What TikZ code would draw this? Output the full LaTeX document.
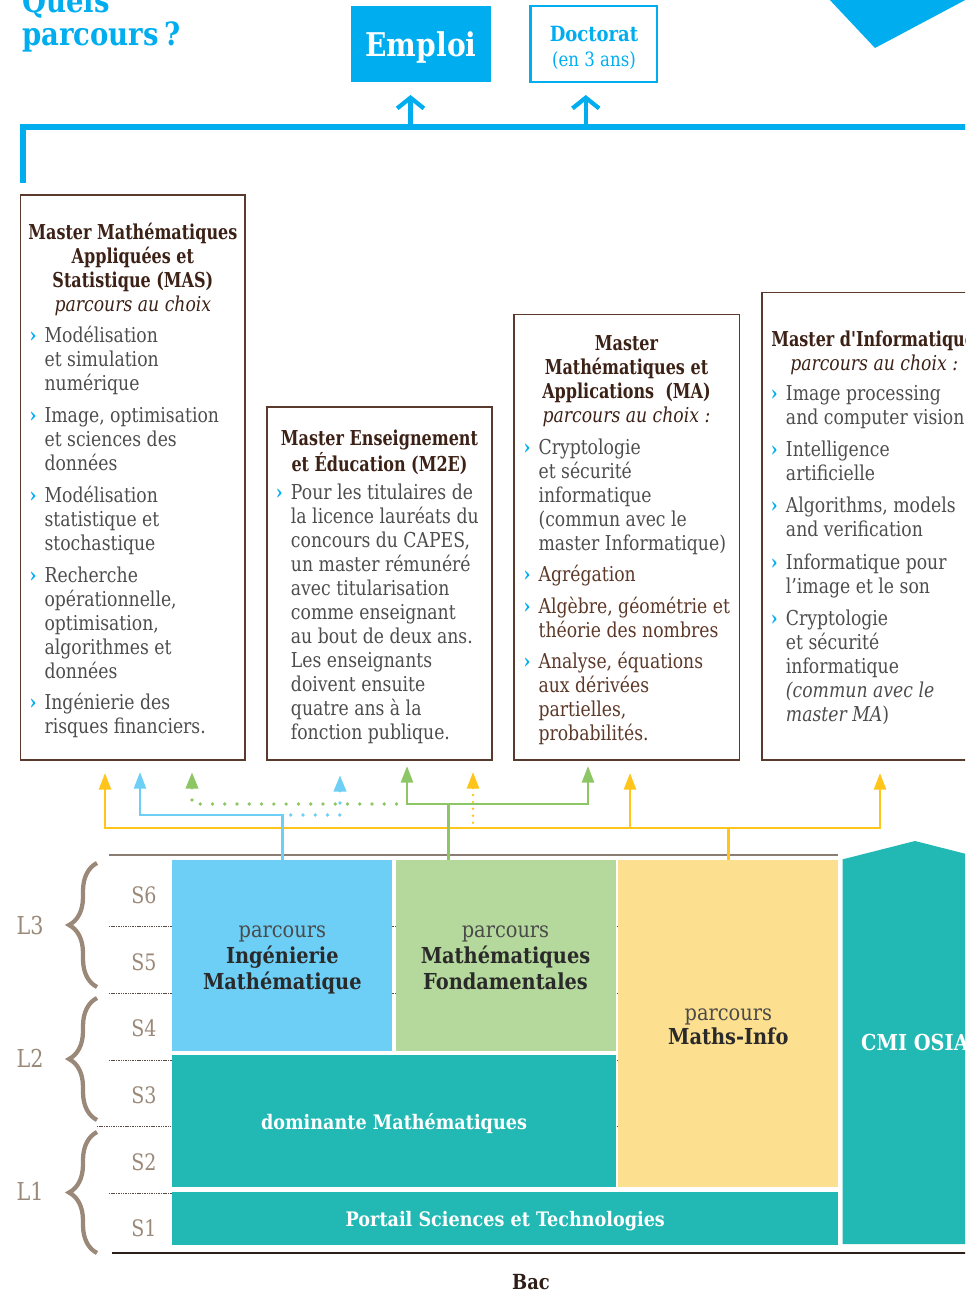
\documentclass[tikz,border=0pt]{standalone}
\usepackage{fontspec}
\setmainfont{DejaVu Serif}[FakeStretch=0.84]
\newfontfamily\hdfont{DejaVu Serif}[FakeStretch=0.78]
\newfontfamily\blkfont{DejaVu Serif}[FakeStretch=0.88]
\newfontfamily\ttlfont{DejaVu Serif}[FakeStretch=0.86]
\usetikzlibrary{arrows.meta,fit,decorations.pathreplacing}

\definecolor{cyanB}{HTML}{00AEEF}
\definecolor{brownB}{HTML}{5A3A2C}
\definecolor{headC}{HTML}{3C2116}
\definecolor{bodyC}{HTML}{4D4D4D}
\definecolor{maC}{HTML}{5C3828}
\definecolor{lblue}{HTML}{6DCFF6}
\definecolor{lgreen}{HTML}{B5D99C}
\definecolor{lyellow}{HTML}{FCDF8F}
\definecolor{tealB}{HTML}{22B9B4}
\definecolor{taupe}{HTML}{9A8878}
\definecolor{lineG}{HTML}{8C7D74}
\definecolor{darkL}{HTML}{2E1E18}
\definecolor{yline}{HTML}{FFC51A}
\definecolor{gline}{HTML}{8DC765}
\definecolor{blkText}{HTML}{2A2A2A}
\definecolor{softText}{HTML}{4A4A4A}
\definecolor{semC}{HTML}{5A4A42}

% lines of a text block, baseline on the first line
\newcommand{\txtlines}[2][l]{\begin{tabular}[t]{@{}#1@{}}#2\end{tabular}}
% one bulleted entry of a master box
\newcommand{\mitem}[5][bodyC]{%
  \node[bul] (#2-b) at ({#3-15},{#4}) {›};
  \node[itm,text=#1] (#2) at ({#3},{#4}) {\txtlines{#5}};}

\begin{document}
\begin{tikzpicture}[x=0.75pt,y=-0.75pt,
  mbox/.style={draw=brownB,line width=1.1pt,inner sep=0pt},
  blk/.style={inner sep=0pt,draw=none},
  hd/.style={anchor=base,inner sep=0pt,text=headC,font=\hdfont\bfseries\fontsize{15.4}{18}\selectfont},
  itm/.style={anchor=base west,inner sep=0pt,font=\fontsize{15.4}{18}\selectfont},
  bul/.style={anchor=base west,inner sep=0pt,text=cyanB,font=\bfseries\fontsize{15.4}{18}\selectfont},
  blktxt/.style={anchor=base,inner sep=0pt,text=blkText,font=\blkfont\fontsize{16.5}{19.5}\selectfont},
  whitetxt/.style={anchor=base,inner sep=0pt,text=white,font=\blkfont\bfseries\fontsize{15}{18}\selectfont},
  sem/.style={anchor=base,inner sep=0pt,text=taupe,font=\fontsize{17}{20}\selectfont},
  lvl/.style={anchor=base,inner sep=0pt,text=taupe,font=\fontsize{18.5}{20}\selectfont},
  brc/.style={draw=taupe,line width=3.2pt,decorate,decoration={brace,amplitude=21pt}},
  semline/.style={draw=semC,line width=0.5pt,dash pattern=on 0.8pt off 0.5pt},
  Tri/.tip={Triangle[length=12.5pt,width=9pt]},
  ylw/.style={draw=yline,line width=2pt},
  grn/.style={draw=gline,line width=2pt},
  blu/.style={draw=lblue,line width=2pt},
  dotsbig/.style={line width=2.8pt,line cap=round,dash pattern=on 0pt off 9.2pt},
  dotssmall/.style={line width=2pt,line cap=round,dash pattern=on 0pt off 5.2pt},
  upbarb/.style={draw=cyanB,line width=3.2pt,-{Straight Barb[length=8pt,width=20pt]}}
]
\useasboundingbox (0,0) rectangle (965,1296);
\clip (0,0) rectangle (965,1296);

% ---------- heading ----------
\node[anchor=base west,inner sep=0pt,text=cyanB,font=\ttlfont\bfseries\fontsize{24}{28}\selectfont] (quels) at (22,12) {Quels};
\node[anchor=base west,inner sep=0pt,text=cyanB,font=\ttlfont\bfseries\fontsize{24}{28}\selectfont] (parcours) at (22,45) {parcours\,?};
\fill[cyanB] (828,-2) -- (875,48) -- (969,-2) -- cycle;

% ---------- outcomes ----------
\node[blk,fill=cyanB,fit={(350.8,6) (491,81.7)}] (emploi) {};
\node[anchor=base,inner sep=0pt,text=white,font=\ttlfont\bfseries\fontsize{24.5}{28}\selectfont] (emploi-t) at (421,56.7) {Emploi};
\node[draw=cyanB,line width=1.6pt,inner sep=0pt,fit={(530.5,6) (656.6,81.7)}] (doct) {};
\node[anchor=base,inner sep=0pt,text=cyanB,font=\ttlfont\bfseries\fontsize{15.7}{18}\selectfont] (doct-t) at (594,41.7) {Doctorat};
\node[anchor=base,inner sep=0pt,text=cyanB,font=\fontsize{14.8}{18}\selectfont] (doct-s) at (594,66.7) {(en 3 ans)};

% ---------- top bus ----------
\coordinate (bus-end) at (23,183);
\coordinate (bus-corner) at (23,126.5);
\coordinate (bus-right) at (990,126.5);
\coordinate (emp-src) at (410.5,126.5);
\coordinate (emp-in) at (410.5,95);
\coordinate (doc-src) at (585.8,126.5);
\coordinate (doc-in) at (585.8,95);
\draw[cyanB,line width=4.5pt] (bus-end) -- (bus-corner) -- (bus-right);
\draw[upbarb] (emp-src) -- (emp-in);
\draw[upbarb] (doc-src) -- (doc-in);

% ---------- master boxes ----------
\node[mbox,fit={(20.7,195) (245,760)}] (mas) {};
\node[mbox,fit={(267,407) (492,760)}] (m2e) {};
\node[mbox,fit={(514,314.3) (739.3,760)}] (ma) {};
\node[mbox,fit={(762,292.3) (1000,760)}] (info) {};

% MAS
\node[hd] (mas-t) at (132.9,239.3) {\txtlines[c]{Master Mathématiques\\Appliquées et\\Statistique (MAS)\\{\normalfont\itshape parcours au choix}}};
\mitem{mas-1}{44.3}{342.7}{Modélisation\\et simulation\\numérique}
\mitem{mas-2}{44.3}{422.7}{Image, optimisation\\et sciences des\\données}
\mitem{mas-3}{44.3}{502.7}{Modélisation\\statistique et\\stochastique}
\mitem{mas-4}{44.3}{582}{Recherche\\opérationnelle,\\optimisation,\\algorithmes et\\données}
\mitem{mas-5}{44.3}{709.5}{Ingénierie des\\risques financiers.}

% M2E
\node[hd] (m2e-t) at (379.5,445) {\txtlines[c]{Master Enseignement\\et Éducation (M2E)}};
\mitem{m2e-1}{290.7}{499.3}{Pour les titulaires de\\la licence lauréats du\\concours du CAPES,\\un master rémunéré\\avec titularisation\\comme enseignant\\au bout de deux ans.\\Les enseignants\\doivent ensuite\\quatre ans à la\\fonction publique.}

% MA
\node[hd] (ma-t) at (626.5,350) {\txtlines[c]{Master\\Mathématiques et\\Applications\ \ (MA)\\{\normalfont\itshape parcours au choix~:}}};
\mitem{ma-1}{538.3}{454}{Cryptologie\\et sécurité\\informatique\\(commun avec le\\master Informatique)}
\mitem[maC]{ma-2}{538.3}{581.5}{Agrégation}
\mitem[maC]{ma-3}{538.3}{613}{Algèbre, géométrie et\\théorie des nombres}
\mitem[maC]{ma-4}{538.3}{668.5}{Analyse, équations\\aux dérivées\\partielles,\\probabilités.}

% Informatique
\node[hd,anchor=base west] (info-t) at (771,346) {Master d'Informatique};
\node[anchor=base west,inner sep=0pt,text=headC,font=\itshape\fontsize{15.4}{18}\selectfont] (info-s) at (790,370) {parcours au choix~:};
\mitem{inf-1}{785.7}{400}{Image processing\\and computer vision}
\mitem{inf-2}{785.7}{456}{Intelligence\\artificielle}
\mitem{inf-3}{785.7}{512.5}{Algorithms, models\\and verification}
\mitem{inf-4}{785.7}{569}{Informatique pour\\l'image et le son}
\mitem{inf-5}{785.7}{625}{Cryptologie\\et sécurité\\informatique\\\textit{(commun avec le}\\\textit{master MA})}

% ---------- semester grid ----------
\draw[lineG,line width=1.5pt] (109,854.5) -- (838,854.5);
\foreach \yy in {926.7,993.3,1060,1193.3} \draw[semline] (109,\yy) -- (838,\yy);
\draw[semline] (97,1126.7) -- (838,1126.7);
\draw[darkL,line width=1.4pt] (111.7,1253.3) -- (970,1253.3);

\node[sem] (s6) at (144,903.3) {S6};
\node[sem] (s5) at (144,970) {S5};
\node[sem] (s4) at (144,1036.7) {S4};
\node[sem] (s3) at (144,1103.3) {S3};
\node[sem] (s2) at (144,1170) {S2};
\node[sem] (s1) at (144,1236.7) {S1};
\node[lvl] (l3) at (30,934) {L3};
\node[lvl] (l2) at (30,1067.3) {L2};
\node[lvl] (l1) at (30,1200.7) {L1};
\draw[brc] (97,987) -- (97,863);
\draw[brc] (97,1120) -- (97,998);
\draw[brc] (97,1253) -- (97,1132);

% ---------- licence blocks ----------
\node[blk,fill=lblue,fit={(172.3,860) (392.3,1050.7)}] (ig) {};
\node[blk,fill=lgreen,fit={(395.7,860) (615.5,1050.7)}] (mf) {};
\node[blk,fill=lyellow,fit={(618.3,860) (838.3,1186.7)}] (mi) {};
\node[blk,fill=tealB,fit={(172.3,1055) (615.5,1186.7)}] (dom) {};
\node[blk,fill=tealB,fit={(172.3,1191.7) (838.3,1245)}] (port) {};
\fill[tealB] (842.7,1244) -- (842.7,859.3) -- (915,841) -- (987.3,859.3) -- (987.3,1244) -- cycle;

\node[blktxt] (ig-t) at (282.3,937.3) {\txtlines[c]{\textcolor{softText}{parcours}\\\textbf{Ingénierie}\\\textbf{Mathématique}}};
\node[blktxt] (mf-t) at (505.5,937.3) {\txtlines[c]{\textcolor{softText}{parcours}\\\textbf{Mathématiques}\\\textbf{Fondamentales}}};
\node[blktxt,font=\blkfont\fontsize{16.5}{18}\selectfont] (mi-t) at (728.3,1020) {\txtlines[c]{\textcolor{softText}{parcours}\\\textbf{Maths-Info}}};
\node[whitetxt] (dom-t) at (394,1129) {dominante Mathématiques};
\node[whitetxt] (port-t) at (505.3,1226.5) {Portail Sciences et Technologies};
\node[whitetxt,font=\blkfont\bfseries\fontsize{16.5}{18}\selectfont] (cmi-t) at (915,1050.7) {CMI OSIA};
\node[anchor=base,inner sep=0pt,text=darkL,font=\ttlfont\bfseries\fontsize{15.6}{18}\selectfont] (bac) at (531,1289) {Bac};

% ---------- links from the licence paths to the masters ----------
\coordinate (ybus) at (0,828);
\coordinate (bbus) at (0,815);
\coordinate (gbus) at (0,804);
\coordinate (yt1) at (105,773);
\coordinate (yt2) at (630,773);
\coordinate (yt3) at (880,773);
\coordinate (ytd) at (473,772);
\coordinate (bt1) at (140,772);
\coordinate (bt2) at (340,775);
\coordinate (gt1) at (407,766);
\coordinate (gt2) at (588,766);
\coordinate (gtd) at (192,772);
\coordinate (mf-out) at (448.7,860);

% dotted links
\draw[ylw,dotssmall,Tri-] (ytd) -- (ytd |- ybus);
\draw[blu,dotsbig,Tri-] (bt2) |- (bbus -| ig.north);
\draw[grn,dotsbig,Tri-] (gtd) |- (gbus -| gt1);
% solid links
\draw[ylw,Tri-Tri] (yt1) -- (yt1 |- ybus) -- (yt3 |- ybus) -- (yt3);
\draw[ylw,-Tri] (yt2 |- ybus) -- (yt2);
\draw[ylw] (mi.north) -- (mi.north |- ybus);
\draw[blu,Tri-] (bt1) |- (bbus -| ig.north) -- (ig.north);
\draw[grn,Tri-Tri] (gt1) -- (gt1 |- gbus) -- (gt2 |- gbus) -- (gt2);
\draw[grn] (mf-out) -- (mf-out |- gbus);
\end{tikzpicture}
\end{document}
